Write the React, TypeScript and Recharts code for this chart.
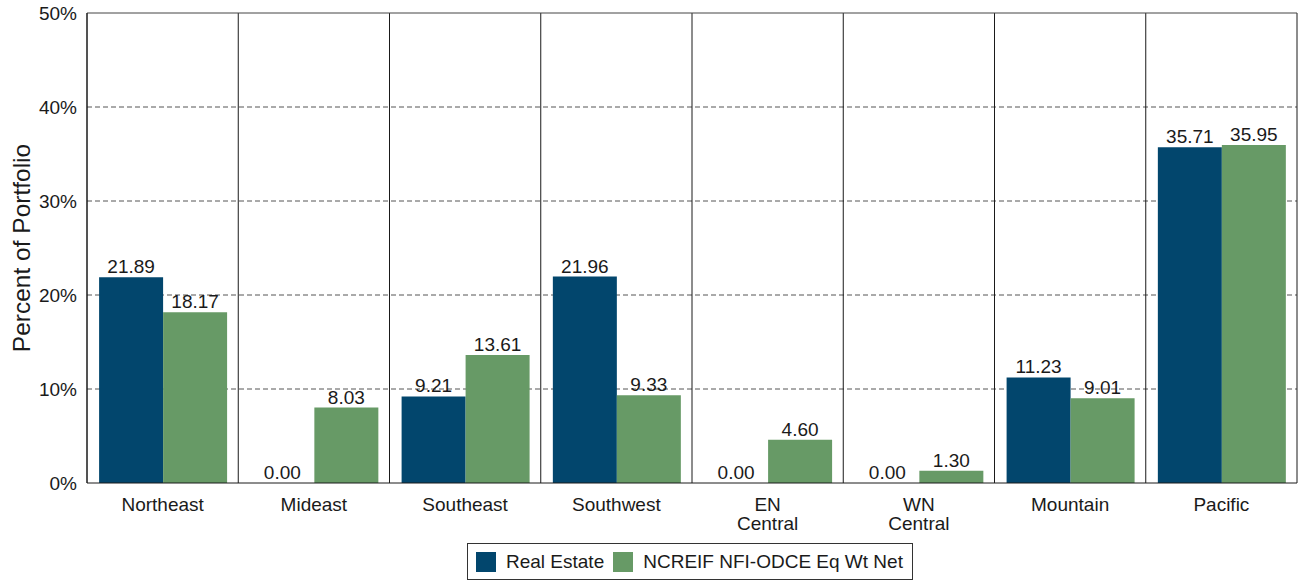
import React from "react"
import {
  Bar,
  BarChart,
  CartesianGrid,
  LabelList,
  Legend,
  ReferenceLine,
  XAxis,
  YAxis,
} from "recharts"

const regions = ["Northeast", "Mideast", "Southeast", "Southwest", "EN Central", "WN Central", "Mountain", "Pacific"]
const realEstate = [21.89, 0.0, 9.21, 21.96, 0.0, 0.0, 11.23, 35.71]
const ncreif = [18.17, 8.03, 13.61, 9.33, 4.6, 1.3, 9.01, 35.95]
const yTicks = [0, 10, 20, 30, 40, 50]

const data = regions.map((name, i) => ({
  name,
  realEstate: realEstate[i],
  ncreif: ncreif[i],
}))

const BLUE = "#02466D"
const GREEN = "#679A66"
const FONT = "'Liberation Sans', Arial, sans-serif"
const INK = "#1a1a1a"
const FS = 19

// two-word western/eastern regions get stacked onto two lines
const tickLines = (name: string) => (/^(EN|WN) /.test(name) ? name.split(" ") : [name])

// keeps zero-valued bars in the label pass without drawing anything visible
const tinyForZero = (v: any) => (Number(v) === 0 ? 0.01 : 0)

function RegionTick(props: any) {
  const { x, y, payload } = props
  const lines = tickLines(payload.value)
  return (
    <text x={x} y={y} textAnchor="middle" fontSize={FS} fill={INK} fontFamily={FONT}>
      {lines.map((l, i) => (
        <tspan key={i} x={x} dy={i === 0 ? 20 : 19}>
          {l}
        </tspan>
      ))}
    </text>
  )
}

function YLabel(props: any) {
  const { viewBox } = props
  const cy = viewBox.y + viewBox.height / 2
  return (
    <text
      x={30}
      y={cy}
      transform={`rotate(-90, 30, ${cy})`}
      textAnchor="middle"
      fontSize={24.5}
      fill={INK}
      fontFamily={FONT}
    >
      Percent of Portfolio
    </text>
  )
}

function LegendBox() {
  const swatch = (c: string) => (
    <span style={{ display: "inline-block", width: 20, height: 20, background: c, marginRight: 10 }} />
  )
  return (
    <div
      style={{
        display: "inline-flex",
        alignItems: "center",
        boxSizing: "border-box",
        height: 37,
        border: "1px solid #333",
        padding: "0 9px 0 8px",
        fontFamily: FONT,
        fontSize: FS,
        color: INK,
        background: "#fff",
        whiteSpace: "nowrap",
      }}
    >
      {swatch(BLUE)}
      <span style={{ marginRight: 9 }}>Real Estate</span>
      {swatch(GREEN)}
      <span>NCREIF NFI-ODCE Eq Wt Net</span>
    </div>
  )
}

export default function App() {
  return (
    <div style={{ position: "absolute", left: 0, top: 0, background: "#fff" }}>
      <BarChart
        width={1303}
        height={582}
        data={data}
        margin={{ top: 13, right: 6, left: 0, bottom: 0 }}
        barCategoryGap="8%"
        barGap={0}
      >
        <CartesianGrid vertical={false} stroke="#555" strokeDasharray="5 3" horizontalValues={[10, 20, 30, 40]} />
        <CartesianGrid
          horizontal={false}
          stroke={INK}
          verticalCoordinatesGenerator={({ offset }: any) =>
            regions.concat([""]).map((_, i) => offset.left + (i * offset.width) / regions.length)
          }
        />
        <ReferenceLine y={50} stroke="#444" ifOverflow="visible" />
        <XAxis
          dataKey="name"
          interval={0}
          height={62}
          tickLine={false}
          axisLine={{ stroke: INK }}
          tick={<RegionTick />}
        />
        <YAxis
          width={87}
          domain={[0, 50]}
          ticks={yTicks}
          tickFormatter={(v) => `${v}%`}
          tickLine={false}
          axisLine={{ stroke: INK }}
          tickMargin={4}
          tick={{ fontSize: FS, fill: INK, fontFamily: FONT }}
          label={<YLabel />}
        />
        <Legend
          verticalAlign="bottom"
          content={<LegendBox />}
          wrapperStyle={{ left: 467, width: "auto", bottom: 2 }}
        />
        <Bar dataKey="realEstate" name="Real Estate" fill={BLUE} minPointSize={tinyForZero} isAnimationActive={false}>
          <LabelList
            dataKey="realEstate"
            position="top"
            offset={4}
            formatter={(v: any) => Number(v).toFixed(2)}
            style={{ fontSize: FS, fill: INK, fontFamily: FONT }}
          />
        </Bar>
        <Bar dataKey="ncreif" name="NCREIF NFI-ODCE Eq Wt Net" fill={GREEN} minPointSize={tinyForZero} isAnimationActive={false}>
          <LabelList
            dataKey="ncreif"
            position="top"
            offset={4}
            formatter={(v: any) => Number(v).toFixed(2)}
            style={{ fontSize: FS, fill: INK, fontFamily: FONT }}
          />
        </Bar>
      </BarChart>
    </div>
  )
}
